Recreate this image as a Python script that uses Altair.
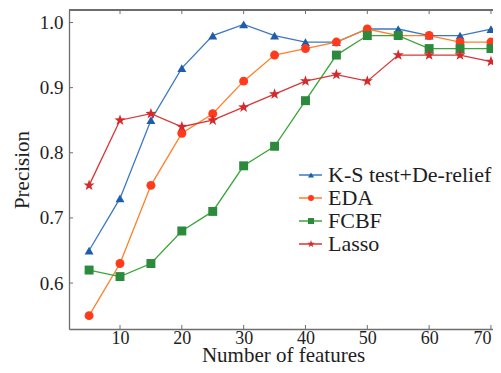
import altair as alt
import pandas as pd

features = [5, 10, 15, 20, 25, 30, 35, 40, 45, 50, 55, 60, 65, 70]
series_names = ["K-S test+De-relief", "EDA", "FCBF", "Lasso"]
ks = [0.65, 0.73, 0.85, 0.93, 0.98, 0.997, 0.98, 0.97, 0.97, 0.99, 0.99, 0.98, 0.98, 0.99]
eda = [0.55, 0.63, 0.75, 0.83, 0.86, 0.91, 0.95, 0.96, 0.97, 0.99, 0.98, 0.98, 0.97, 0.97]
fcbf = [0.62, 0.61, 0.63, 0.68, 0.71, 0.78, 0.81, 0.88, 0.95, 0.98, 0.98, 0.96, 0.96, 0.96]
lasso = [0.75, 0.85, 0.86, 0.84, 0.85, 0.87, 0.89, 0.91, 0.92, 0.91, 0.95, 0.95, 0.95, 0.94]
x_ticks = [10, 20, 30, 40, 50, 60, 70]
y_ticks = [0.6, 0.7, 0.8, 0.9, 1.0]

line_colors = ["#3b78c4", "#ff7f27", "#3aa63a", "#d93636"]
marker_colors = ["#1f5dab", "#ff3b1c", "#2b8a3c", "#d42a2a"]
star = ("M0,-1.3L0.306,-0.421L1.236,-0.402L0.494,0.161L0.764,1.052L0,0.52"
        "L-0.764,1.052L-0.494,0.161L-1.236,-0.402L-0.306,-0.421Z")
shapes = ["triangle-up", "circle", "square", star]

rows = []
for name, vals in zip(series_names, [ks, eda, fcbf, lasso]):
    for f, v in zip(features, vals):
        rows.append({"features": f, "precision": v, "series": name})
df = pd.DataFrame(rows)

W, H = 424, 319
SERIF = "Liberation Serif"
FRAME = "#6e6e6e"
TXT = "#1e1e1e"

xscale = alt.Scale(domain=[1.75, 70.33], nice=False, zero=False)
yscale = alt.Scale(domain=[0.5295, 1.0192], nice=False, zero=False)

xaxis = alt.Axis(values=x_ticks, ticks=False, tickSize=0, grid=False, domainColor=FRAME,
                 domainWidth=1.3, labelFont=SERIF, labelFontSize=18, labelColor=TXT,
                 labelPadding=0, labelFlush=3, title="Number of features", titleFont=SERIF,
                 titleFontSize=21, titleFontWeight="normal", titleColor=TXT,
                 titleBaseline="bottom", titleY=36, titleX=W / 2 + 2)
yaxis = alt.Axis(values=y_ticks, ticks=False, tickSize=0, grid=False, domainColor=FRAME,
                 domainWidth=1.3, labelFont=SERIF, labelFontSize=19, labelColor=TXT,
                 labelPadding=6, format=".1f", title="Precision", titleFont=SERIF,
                 titleFontSize=21, titleFontWeight="normal", titleColor=TXT,
                 titleX=-47, titleY=H / 2, titleBaseline="middle", titleAlign="center",
                 titleAngle=-90)

lines = alt.Chart(df).mark_line(strokeWidth=1.3).encode(
    x=alt.X("features:Q", scale=xscale, axis=xaxis),
    y=alt.Y("precision:Q", scale=yscale, axis=yaxis),
    color=alt.Color("series:N", scale=alt.Scale(domain=series_names, range=line_colors),
                    legend=alt.Legend(title=None, orient="none", legendX=229, legendY=154.5,
                                      symbolType="stroke", symbolSize=529,
                                      symbolStrokeWidth=1.5, labelFont=SERIF,
                                      labelFontSize=22, labelColor=TXT, labelOffset=5,
                                      labelLimit=400, clipHeight=21, rowPadding=0,
                                      padding=0)),
    detail="series:N",
)

points = alt.Chart(df).mark_point(filled=True, opacity=1, size=80).encode(
    x=alt.X("features:Q", scale=xscale),
    y=alt.Y("precision:Q", scale=yscale),
    color=alt.Color("series:N", scale=alt.Scale(domain=series_names, range=marker_colors),
                    legend=alt.Legend(title=None, orient="none", legendX=231, legendY=154.5,
                                      symbolSize=36, labelExpr="''", labelFontSize=22,
                                      labelOffset=0, clipHeight=21, rowPadding=0,
                                      padding=0)),
    shape=alt.Shape("series:N", scale=alt.Scale(domain=series_names, range=shapes)),
)

xt = pd.DataFrame({"t": x_ticks})
yt = pd.DataFrame({"t": y_ticks})
xticks_bottom = alt.Chart(xt).mark_rule(color=FRAME, strokeWidth=1).encode(
    x=alt.X("t:Q", scale=xscale), y=alt.value(H), y2=alt.value(H - 4))
xticks_top = alt.Chart(xt).mark_rule(color=FRAME, strokeWidth=1).encode(
    x=alt.X("t:Q", scale=xscale), y=alt.value(0), y2=alt.value(4))
yticks_left = alt.Chart(yt).mark_rule(color=FRAME, strokeWidth=1).encode(
    y=alt.Y("t:Q", scale=yscale), x=alt.value(0), x2=alt.value(4))
top_line = alt.Chart(xt).mark_rule(color=FRAME, strokeWidth=1.3).encode(
    x=alt.value(0), x2=alt.value(W), y=alt.value(0))

chart = alt.layer(
    xticks_bottom, xticks_top, yticks_left, top_line, lines, points
).resolve_scale(color="independent", shape="independent").properties(
    width=W, height=H,
    autosize=alt.AutoSizeParams(type="none"),
    padding={"left": 61, "top": 2, "right": 0, "bottom": 36},
).configure_view(stroke=None).configure(background="white")

chart.save("out.html", embed_options={"renderer": "svg", "actions": False})
